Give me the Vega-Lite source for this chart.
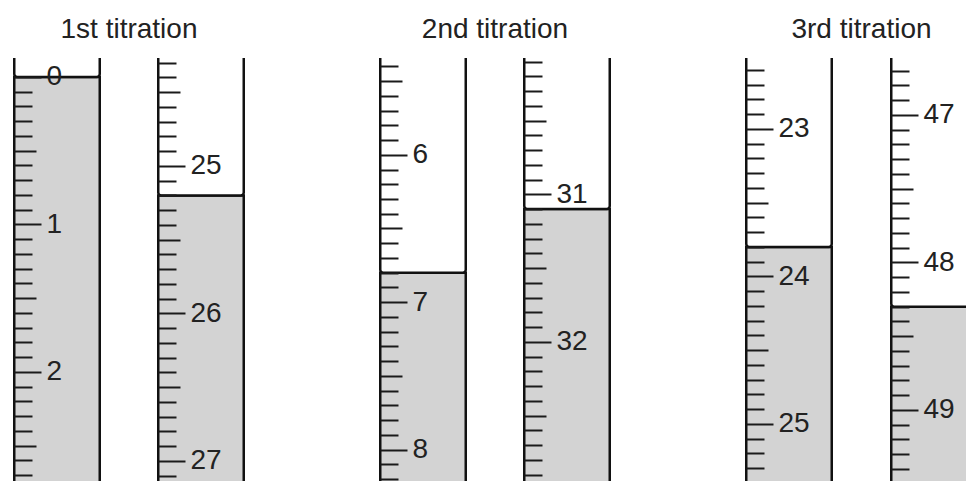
{
  "$schema": "https://vega.github.io/schema/vega-lite/v6.json",
  "background": "white",
  "padding": {"left": 13, "top": 16, "right": 0, "bottom": 0},
  "config": {
    "view": {"stroke": null},
    "font": "Liberation Sans",
    "axis": {
      "domain": false,
      "grid": false,
      "title": null,
      "tickColor": "#1a1a1a",
      "tickWidth": 2,
      "tickCount": 60,
      "labelFont": "Liberation Sans",
      "labelColor": "#222222",
      "labelPadding": 5,
      "labelBaseline": "middle",
      "labelAlign": "left",
      "labelOverlap": false,
      "labelFlush": false,
      "zindex": 1
    },
    "title": {"anchor": "middle", "fontSize": 28, "fontWeight": "normal", "font": "Liberation Sans", "color": "#222222", "offset": 14}
  },
  "datasets": {
    "readings": [
      {"titration": "1st titration", "position": "initial", "reading": 0.00},
      {"titration": "1st titration", "position": "final", "reading": 25.20},
      {"titration": "2nd titration", "position": "initial", "reading": 6.80},
      {"titration": "2nd titration", "position": "final", "reading": 31.10},
      {"titration": "3rd titration", "position": "initial", "reading": 23.80},
      {"titration": "3rd titration", "position": "final", "reading": 48.30}
    ]
  },
  "data": {"name": "readings"},
  "spacing": 134,
  "hconcat": [
    {
      "title": "1st titration",
      "spacing": 56,
      "hconcat": [
        {
          "width": 88, "height": 423,
          "transform": [{"filter": "datum.titration === '1st titration' && datum.position === 'initial'"}],
          "layer": [
            {
              "mark": {"type": "rect", "clip": true, "fill": "#d3d3d3", "stroke": "#111111", "strokeWidth": 2.5},
              "encoding": {
                "x": {"datum": 0, "type": "quantitative", "scale": {"domain": [0, 1], "padding": 1.25, "nice": false, "zero": false}, "axis": null},
                "x2": {"datum": 1},
                "y": {"field": "reading", "type": "quantitative",
                  "scale": {"domain": [-0.1288, 2.739], "reverse": true, "nice": false, "zero": false},
                  "axis": {"orient": "right", "offset": -87, "zindex": 1, "tickCount": 60,
                    "values": [0,0.1,0.2,0.3,0.4,0.5,0.6,0.7,0.8,0.9,1,1.1,1.2,1.3,1.4,1.5,1.6,1.7,1.8,1.9,2,2.1,2.2,2.3,2.4,2.5,2.6,2.7],
                    "tickSize": {"condition": [{"test": "abs(datum.value - round(datum.value)) < 0.001", "value": 27}, {"test": "abs(datum.value*2 - round(datum.value*2)) < 0.001", "value": 22}], "value": 18},
                    "labelFontSize": {"condition": {"test": "abs(datum.value - round(datum.value)) < 0.001", "value": 28}, "value": 0},
                    "labelExpr": "abs(datum.value - round(datum.value)) < 0.001 ? '' + round(datum.value) : ''"}},
                "y2": {"datum": 3.5}
              }
            },
            {
              "mark": {"type": "rect", "clip": true, "fill": "#ffffff", "stroke": "#111111", "strokeWidth": 2.5, "cornerRadiusBottomLeft": 3, "cornerRadiusBottomRight": 3},
              "encoding": {
                "x": {"datum": 0, "type": "quantitative"},
                "x2": {"datum": 1},
                "y": {"field": "reading", "type": "quantitative"},
                "y2": {"datum": -1}
              }
            }
          ]
        },
        {
          "width": 88, "height": 423,
          "transform": [{"filter": "datum.titration === '1st titration' && datum.position === 'final'"}],
          "layer": [
            {
              "mark": {"type": "rect", "clip": true, "fill": "#d3d3d3", "stroke": "#111111", "strokeWidth": 2.5},
              "encoding": {
                "x": {"datum": 0, "type": "quantitative", "scale": {"domain": [0, 1], "padding": 1.25, "nice": false, "zero": false}, "axis": null},
                "x2": {"datum": 1},
                "y": {"field": "reading", "type": "quantitative",
                  "scale": {"domain": [24.268, 27.136], "reverse": true, "nice": false, "zero": false},
                  "axis": {"orient": "right", "offset": -87, "zindex": 1, "tickCount": 60,
                    "values": [24.3,24.4,24.5,24.6,24.7,24.8,24.9,25,25.1,25.2,25.3,25.4,25.5,25.6,25.7,25.8,25.9,26,26.1,26.2,26.3,26.4,26.5,26.6,26.7,26.8,26.9,27,27.1],
                    "tickSize": {"condition": [{"test": "abs(datum.value - round(datum.value)) < 0.001", "value": 27}, {"test": "abs(datum.value*2 - round(datum.value*2)) < 0.001", "value": 22}], "value": 18},
                    "labelFontSize": {"condition": {"test": "abs(datum.value - round(datum.value)) < 0.001", "value": 28}, "value": 0},
                    "labelExpr": "abs(datum.value - round(datum.value)) < 0.001 ? '' + round(datum.value) : ''"}},
                "y2": {"datum": 28}
              }
            },
            {
              "mark": {"type": "rect", "clip": true, "fill": "#ffffff", "stroke": "#111111", "strokeWidth": 2.5, "cornerRadiusBottomLeft": 3, "cornerRadiusBottomRight": 3},
              "encoding": {
                "x": {"datum": 0, "type": "quantitative"},
                "x2": {"datum": 1},
                "y": {"field": "reading", "type": "quantitative"},
                "y2": {"datum": 23}
              }
            }
          ]
        }
      ]
    },
    {
      "title": "2nd titration",
      "spacing": 56,
      "hconcat": [
        {
          "width": 88, "height": 423,
          "transform": [{"filter": "datum.titration === '2nd titration' && datum.position === 'initial'"}],
          "layer": [
            {
              "mark": {"type": "rect", "clip": true, "fill": "#d3d3d3", "stroke": "#111111", "strokeWidth": 2.5},
              "encoding": {
                "x": {"datum": 0, "type": "quantitative", "scale": {"domain": [0, 1], "padding": 1.25, "nice": false, "zero": false}, "axis": null},
                "x2": {"datum": 1},
                "y": {"field": "reading", "type": "quantitative",
                  "scale": {"domain": [5.344, 8.212], "reverse": true, "nice": false, "zero": false},
                  "axis": {"orient": "right", "offset": -87, "zindex": 1, "tickCount": 60,
                    "values": [5.4,5.5,5.6,5.7,5.8,5.9,6,6.1,6.2,6.3,6.4,6.5,6.6,6.7,6.8,6.9,7,7.1,7.2,7.3,7.4,7.5,7.6,7.7,7.8,7.9,8,8.1,8.2],
                    "tickSize": {"condition": [{"test": "abs(datum.value - round(datum.value)) < 0.001", "value": 27}, {"test": "abs(datum.value*2 - round(datum.value*2)) < 0.001", "value": 22}], "value": 18},
                    "labelFontSize": {"condition": {"test": "abs(datum.value - round(datum.value)) < 0.001", "value": 28}, "value": 0},
                    "labelExpr": "abs(datum.value - round(datum.value)) < 0.001 ? '' + round(datum.value) : ''"}},
                "y2": {"datum": 9}
              }
            },
            {
              "mark": {"type": "rect", "clip": true, "fill": "#ffffff", "stroke": "#111111", "strokeWidth": 2.5, "cornerRadiusBottomLeft": 3, "cornerRadiusBottomRight": 3},
              "encoding": {
                "x": {"datum": 0, "type": "quantitative"},
                "x2": {"datum": 1},
                "y": {"field": "reading", "type": "quantitative"},
                "y2": {"datum": 4}
              }
            }
          ]
        },
        {
          "width": 88, "height": 423,
          "transform": [{"filter": "datum.titration === '2nd titration' && datum.position === 'final'"}],
          "layer": [
            {
              "mark": {"type": "rect", "clip": true, "fill": "#d3d3d3", "stroke": "#111111", "strokeWidth": 2.5},
              "encoding": {
                "x": {"datum": 0, "type": "quantitative", "scale": {"domain": [0, 1], "padding": 1.25, "nice": false, "zero": false}, "axis": null},
                "x2": {"datum": 1},
                "y": {"field": "reading", "type": "quantitative",
                  "scale": {"domain": [30.076, 32.944], "reverse": true, "nice": false, "zero": false},
                  "axis": {"orient": "right", "offset": -87, "zindex": 1, "tickCount": 60,
                    "values": [30.1,30.2,30.3,30.4,30.5,30.6,30.7,30.8,30.9,31,31.1,31.2,31.3,31.4,31.5,31.6,31.7,31.8,31.9,32,32.1,32.2,32.3,32.4,32.5,32.6,32.7,32.8,32.9],
                    "tickSize": {"condition": [{"test": "abs(datum.value - round(datum.value)) < 0.001", "value": 27}, {"test": "abs(datum.value*2 - round(datum.value*2)) < 0.001", "value": 22}], "value": 18},
                    "labelFontSize": {"condition": {"test": "abs(datum.value - round(datum.value)) < 0.001", "value": 28}, "value": 0},
                    "labelExpr": "abs(datum.value - round(datum.value)) < 0.001 ? '' + round(datum.value) : ''"}},
                "y2": {"datum": 34}
              }
            },
            {
              "mark": {"type": "rect", "clip": true, "fill": "#ffffff", "stroke": "#111111", "strokeWidth": 2.5, "cornerRadiusBottomLeft": 3, "cornerRadiusBottomRight": 3},
              "encoding": {
                "x": {"datum": 0, "type": "quantitative"},
                "x2": {"datum": 1},
                "y": {"field": "reading", "type": "quantitative"},
                "y2": {"datum": 29}
              }
            }
          ]
        }
      ]
    },
    {
      "title": "3rd titration",
      "spacing": 57,
      "hconcat": [
        {
          "width": 88, "height": 423,
          "transform": [{"filter": "datum.titration === '3rd titration' && datum.position === 'initial'"}],
          "layer": [
            {
              "mark": {"type": "rect", "clip": true, "fill": "#d3d3d3", "stroke": "#111111", "strokeWidth": 2.5},
              "encoding": {
                "x": {"datum": 0, "type": "quantitative", "scale": {"domain": [0, 1], "padding": 1.25, "nice": false, "zero": false}, "axis": null},
                "x2": {"datum": 1},
                "y": {"field": "reading", "type": "quantitative",
                  "scale": {"domain": [22.519, 25.387], "reverse": true, "nice": false, "zero": false},
                  "axis": {"orient": "right", "offset": -87, "zindex": 1, "tickCount": 60,
                    "values": [22.6,22.7,22.8,22.9,23,23.1,23.2,23.3,23.4,23.5,23.6,23.7,23.8,23.9,24,24.1,24.2,24.3,24.4,24.5,24.6,24.7,24.8,24.9,25,25.1,25.2,25.3],
                    "tickSize": {"condition": [{"test": "abs(datum.value - round(datum.value)) < 0.001", "value": 27}, {"test": "abs(datum.value*2 - round(datum.value*2)) < 0.001", "value": 22}], "value": 18},
                    "labelFontSize": {"condition": {"test": "abs(datum.value - round(datum.value)) < 0.001", "value": 28}, "value": 0},
                    "labelExpr": "abs(datum.value - round(datum.value)) < 0.001 ? '' + round(datum.value) : ''"}},
                "y2": {"datum": 26}
              }
            },
            {
              "mark": {"type": "rect", "clip": true, "fill": "#ffffff", "stroke": "#111111", "strokeWidth": 2.5, "cornerRadiusBottomLeft": 3, "cornerRadiusBottomRight": 3},
              "encoding": {
                "x": {"datum": 0, "type": "quantitative"},
                "x2": {"datum": 1},
                "y": {"field": "reading", "type": "quantitative"},
                "y2": {"datum": 21}
              }
            }
          ]
        },
        {
          "width": 88, "height": 423,
          "transform": [{"filter": "datum.titration === '3rd titration' && datum.position === 'final'"}],
          "layer": [
            {
              "mark": {"type": "rect", "clip": true, "fill": "#d3d3d3", "stroke": "#111111", "strokeWidth": 2.5},
              "encoding": {
                "x": {"datum": 0, "type": "quantitative", "scale": {"domain": [0, 1], "padding": 1.25, "nice": false, "zero": false}, "axis": null},
                "x2": {"datum": 1},
                "y": {"field": "reading", "type": "quantitative",
                  "scale": {"domain": [46.614, 49.482], "reverse": true, "nice": false, "zero": false},
                  "axis": {"orient": "right", "offset": -87, "zindex": 1, "tickCount": 60,
                    "values": [46.6,46.7,46.8,46.9,47,47.1,47.2,47.3,47.4,47.5,47.6,47.7,47.8,47.9,48,48.1,48.2,48.3,48.4,48.5,48.6,48.7,48.8,48.9,49,49.1,49.2,49.3,49.4],
                    "tickSize": {"condition": [{"test": "abs(datum.value - round(datum.value)) < 0.001", "value": 27}, {"test": "abs(datum.value*2 - round(datum.value*2)) < 0.001", "value": 22}], "value": 18},
                    "labelFontSize": {"condition": {"test": "abs(datum.value - round(datum.value)) < 0.001", "value": 28}, "value": 0},
                    "labelExpr": "abs(datum.value - round(datum.value)) < 0.001 ? '' + round(datum.value) : ''"}},
                "y2": {"datum": 50}
              }
            },
            {
              "mark": {"type": "rect", "clip": true, "fill": "#ffffff", "stroke": "#111111", "strokeWidth": 2.5, "cornerRadiusBottomLeft": 3, "cornerRadiusBottomRight": 3},
              "encoding": {
                "x": {"datum": 0, "type": "quantitative"},
                "x2": {"datum": 1},
                "y": {"field": "reading", "type": "quantitative"},
                "y2": {"datum": 45}
              }
            }
          ]
        }
      ]
    }
  ]
}
